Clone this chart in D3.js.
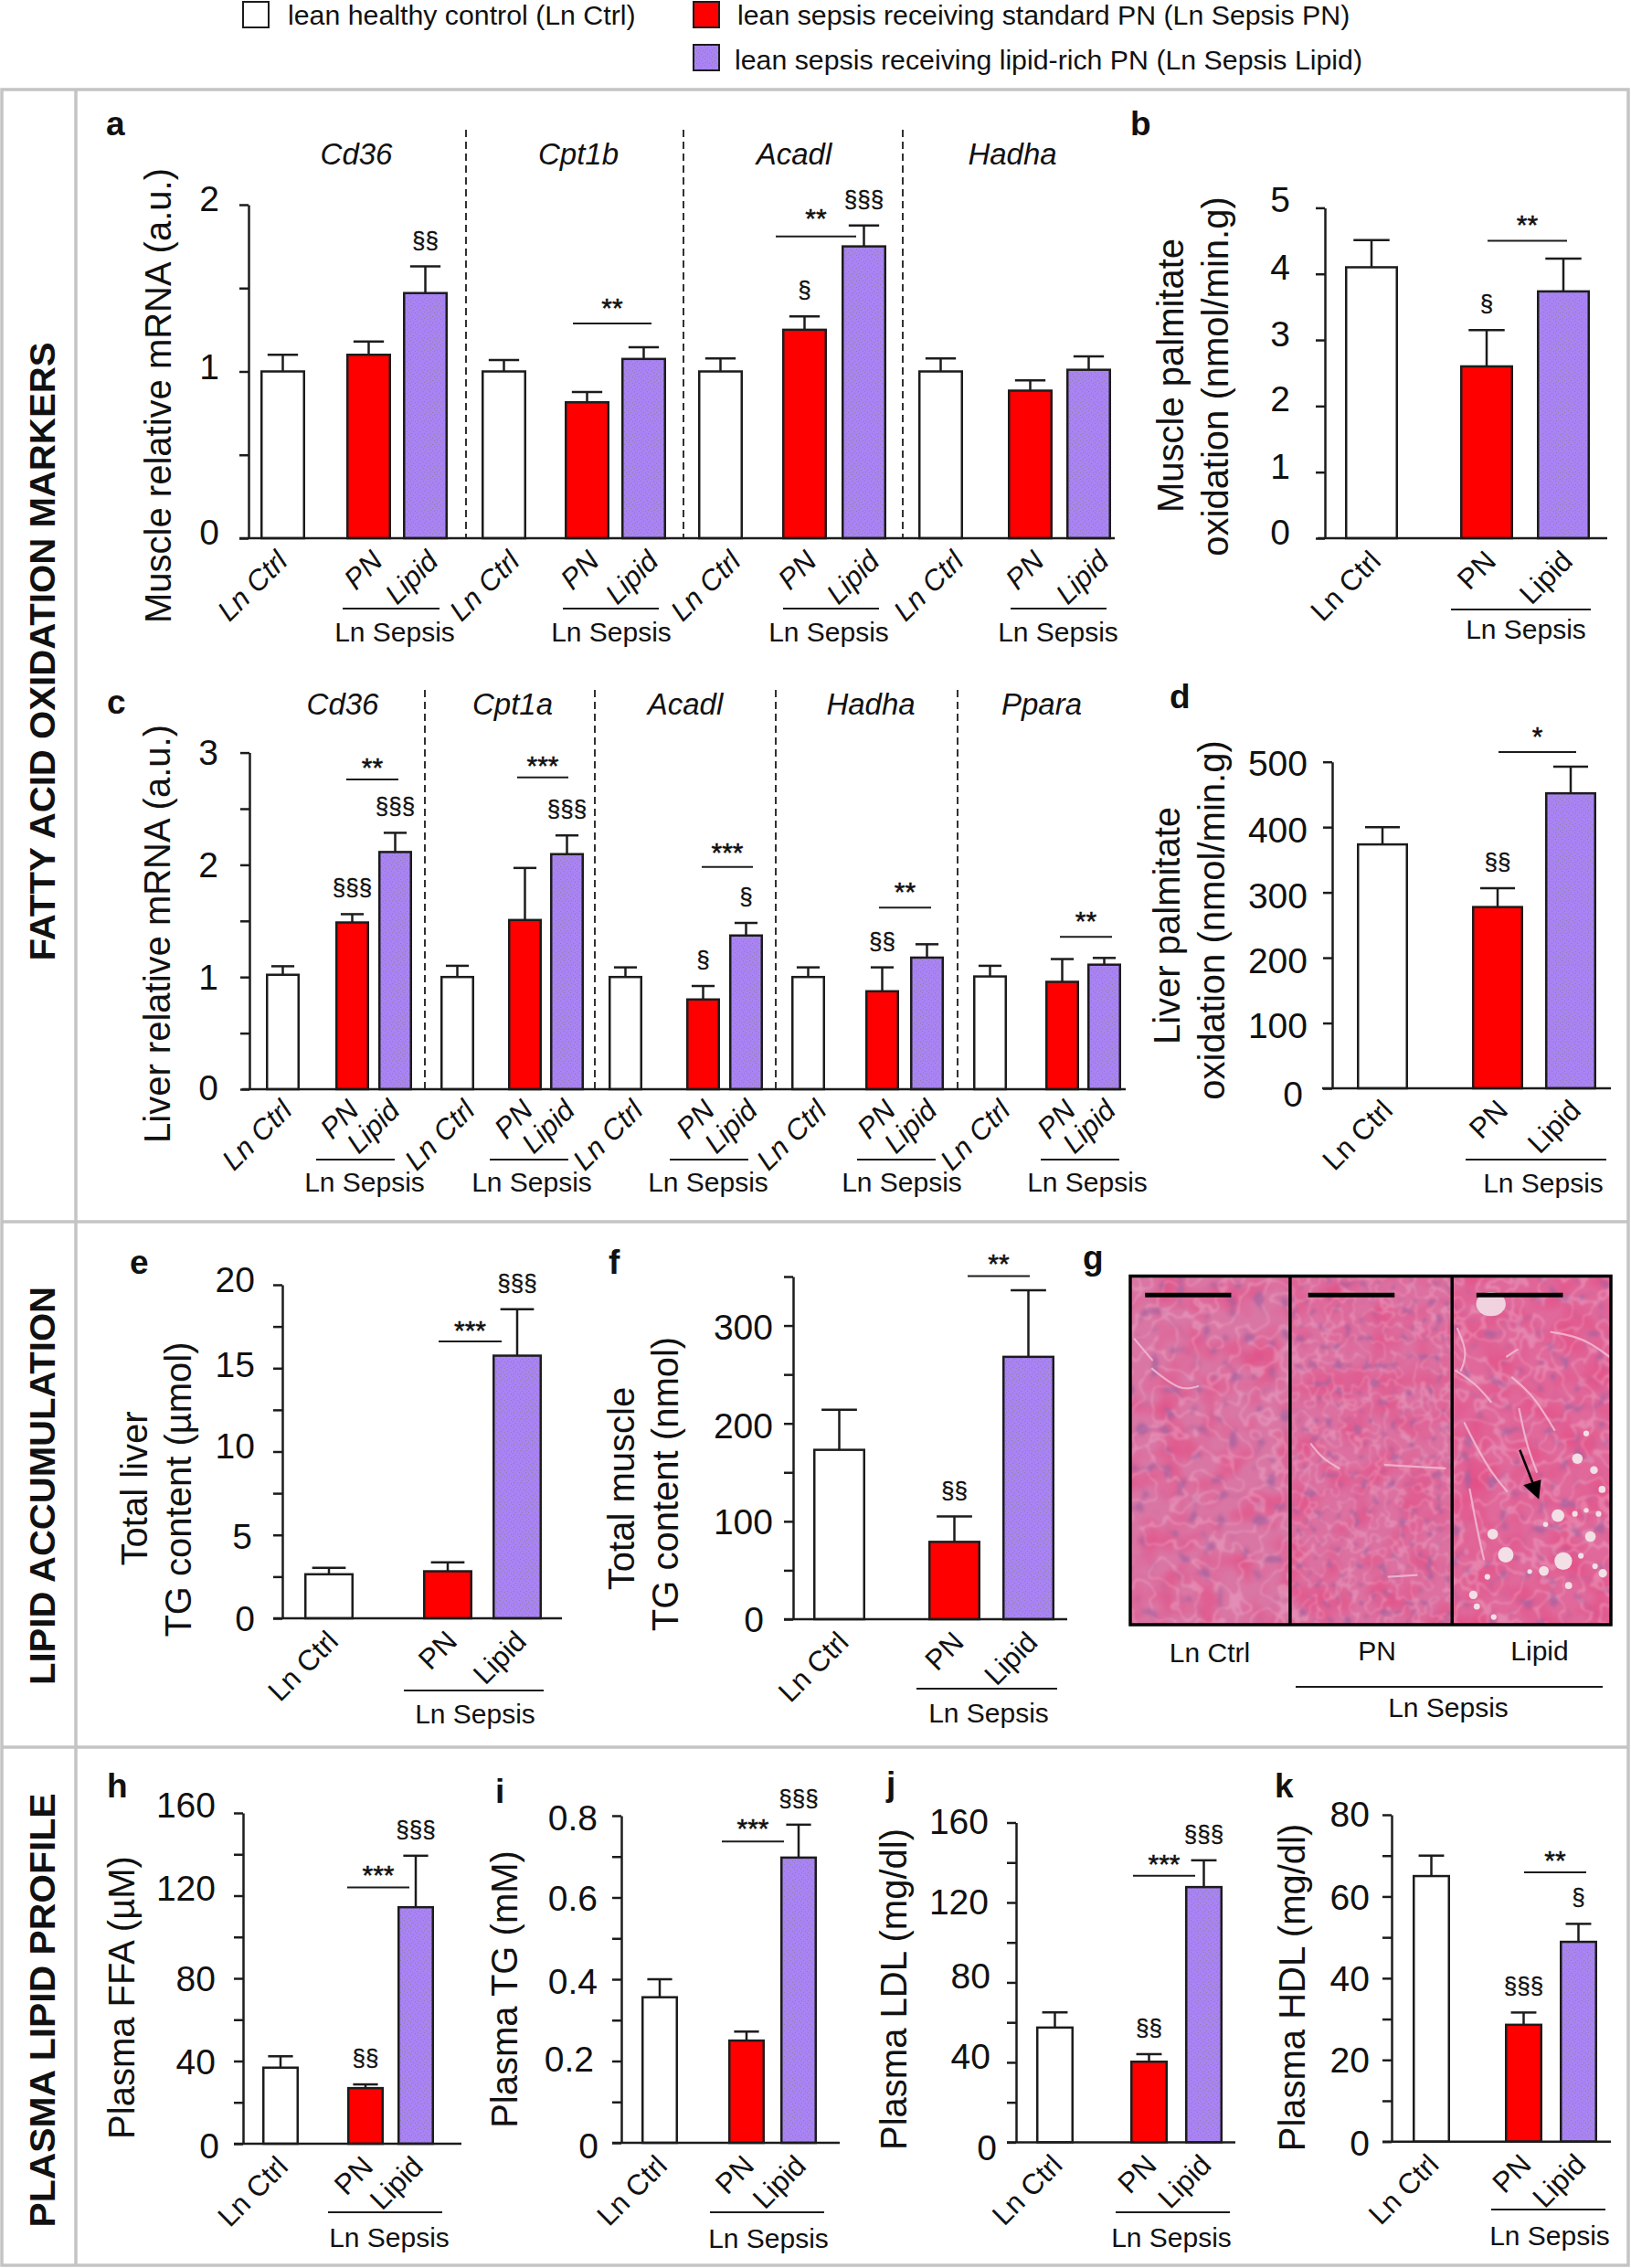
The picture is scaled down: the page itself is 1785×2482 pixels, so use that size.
<!DOCTYPE html>
<html>
<head>
<meta charset="utf-8">
<script src="https://cdn.jsdelivr.net/npm/d3@7"></script>
<style>
  body { margin: 0; background: #fff; }
  text { font-family: "Liberation Sans", Arial, sans-serif; fill: #111; }
</style>
</head>
<body>
<script>
// ---- data ----
const categories = ['Ln Ctrl', 'PN', 'Lipid']
const barFills = ['#fff', '#ff0000', 'url(#stipple)']

const genesA = ['Cd36', 'Cpt1b', 'Acadl', 'Hadha']
const meanA = [[1, 1.10, 1.47], [1, 0.815, 1.075], [1, 1.25, 1.75], [1, 0.885, 1.01]]
const upperA = [[1.10, 1.18, 1.63], [1.068, 0.877, 1.145], [1.078, 1.33, 1.875], [1.078, 0.947, 1.09]]
const hashA = [['', '', '§§'], ['', '', ''], ['', '§', '§§§'], ['', '', '']]

const meanB = [[4.10, 2.60, 3.735]]
const upperB = [[4.51, 3.15, 4.23]]
const hashB = [['', '§', '']]

const genesC = ['Cd36', 'Cpt1a', 'Acadl', 'Hadha', 'Ppara']
const meanC = [[1.02, 1.486, 2.114], [1, 1.508, 2.095], [1, 0.80, 1.37], [1, 0.873, 1.173], [1.005, 0.957, 1.11]]
const upperC = [[1.096, 1.56, 2.285], [1.10, 1.972, 2.262], [1.086, 0.92, 1.482], [1.086, 1.086, 1.292], [1.10, 1.16, 1.17]]
const hashC = [['', '§§§', '§§§'], ['', '', '§§§'], ['', '§', '§'], ['', '§§', ''], ['', '', '']]

const meanD = [[373.5, 277.6, 451.8]]
const upperD = [[400, 306.5, 492.5]]
const hashD = [['', '§§', '']]

const meanE = [[2.64, 2.82, 15.75]]
const upperE = [[3.03, 3.35, 18.53]]
const hashE = [['', '', '§§§']]

const meanF = [[173, 79, 268]]
const upperF = [[214, 105, 336]]
const hashF = [['', '§§', '']]

const meanH = [[36.8, 26.9, 114.4]]
const upperH = [[42.3, 28.7, 139.3]]
const hashH = [['', '§§', '§§§']]

const meanI = [[0.356, 0.25, 0.6975]]
const upperI = [[0.40, 0.272, 0.778]]
const hashI = [['', '', '§§§']]

const meanJ = [[57.4, 40.3, 127.7]]
const upperJ = [[65, 44.1, 141.1]]
const hashJ = [['', '§§', '§§§']]

const meanK = [[65, 28.6, 48.9]]
const upperK = [[70, 31.6, 53.3]]
const hashK = [['', '§§§', '§']]

const legendItems = [
  'lean healthy control (Ln Ctrl)',
  'lean sepsis receiving standard PN (Ln Sepsis PN)',
  'lean sepsis receiving lipid-rich PN (Ln Sepsis Lipid)'
]
const sections = ['FATTY ACID OXIDATION MARKERS', 'LIPID ACCUMULATION', 'PLASMA LIPID PROFILE']

// micrograph details, measured on the photo strip
const droplets = [[1375,1015,25],[1212,997,22],[1175,938,15],[1452,945,15],[1360,885,18],[1415,722,15],[1462,755,11],
  [1485,810,10],[1320,1043,14],[1487,1050,12],[1120,1112,12],[1130,1145,9],[1440,650,8],[1408,880,8],[1425,1000,8],
  [1280,1045,7],[1325,910,7],[1160,1060,8],[1465,1030,8],[1178,1175,8],[1390,1085,10],[1440,870,7],[1475,880,8]]
const cracks = [
  [[1095,620],[1130,690],[1170,760],[1215,815]], [[1070,470],[1130,510],[1170,560]], [[1230,490],[1290,540],[1350,640]],
  [[1110,810],[1130,920],[1150,1010]], [[1340,360],[1430,375],[1505,430]], [[1245,410],[1215,430]], [[1250,580],[1270,680],[1300,760]],
  [[1075,350],[1105,420],[1085,470]], [[660,680],[690,720],[740,750]], [[870,740],[1040,750]], [[880,1060],[960,1055]],
  [[210,465],[290,530],[340,515]], [[160,380],[210,440]]
]

// ---- layout ----
const layouts = [
  { id: 'a', letter: [116, 148], mean: meanA, upper: upperA, hash: hashA, italic: true,
    domain: [0, 2], y0: 589, y1: 224, axisX: 272, base: [262, 1220], ticks: [0, 0.5, 1, 1.5, 2], major: [0, 1, 2],
    nudge: [[0,-7],[0,-6],[0,-7]], labelRight: 240, barW: 49,
    lefts: [[285,379,441],[527,618,680],[764,856,921],[1005,1103,1167]], catOff: [12, 27],
    catDx: [[7,17,16],[19,15,18],[24,15,19],[27,17,24]],
    genes: genesA, geneX: [390,633,869,1108], geneY: 180, dashes: [510,748,988], dashTop: 142,
    sepsis: [[375,481,432],[616,721,669],[857,962,907],[1106,1211,1158]], sepsisLine: 666, sepsisText: 702,
    titles: [['Muscle relative mRNA (a.u.)', 187, 433]],
    sig: [{ x: [627,713], v: 1.288, s: '**', gap: 4 }, { x: [849,937], v: 1.81, s: '**', gap: 7 }] },
  { id: 'b', letter: [1237, 148], mean: meanB, upper: upperB, hash: hashB,
    domain: [0, 5], y0: 589, y1: 227.4, axisX: 1450, base: [1442, 1759], ticks: [0,1,2,3,4,5], major: [0,1,2,3,4,5],
    nudge: [[0,-7.6],[0,-7.6],[0,-8.4],[0,-7.6],[0,-8.4],[0,-9.5]], labelRight: 1412, barW: 58,
    lefts: [[1472,1598,1682]], catOff: [12, 27],
    sepsis: [[1588,1741,1670]], sepsisLine: 667, sepsisText: 699,
    titles: [['Muscle palmitate', 1295, 411], ['oxidation (nmol/min.g)', 1344, 412]],
    sig: [{ x: [1628,1715], v: 4.5, s: '**', gap: 5 }] },
  { id: 'c', letter: [117, 781], mean: meanC, upper: upperC, hash: hashC, italic: true,
    domain: [0, 3], y0: 1192, y1: 823.6, axisX: 273, base: [265, 1232], ticks: [0,0.5,1,1.5,2,2.5,3], major: [0,1,2,3],
    nudge: [[0,-2.4],[0,-1],[0,-1],[0,-1.5]], labelRight: 239, barW: 37,
    lefts: [[291,367,414],[482,556,602],[666,751,798],[866,947,996],[1065,1144,1190]], catOff: [8, 25],
    catDx: [[12,9,7],[21,10.5,10.5],[21,14.5,14.5],[22,16.5,13],[24,16.5,14.5]],
    genes: genesC, geneX: [375,561,750,953,1140], geneY: 782, dashes: [465,651,849,1048], dashTop: 755,
    sepsis: [[346,432,399],[536,622,582],[733,819,775],[938,1024,987],[1139,1225,1190]], sepsisLine: 1269, sepsisText: 1304,
    titles: [['Liver relative mRNA (a.u.)', 186, 1022]],
    sig: [{ x: [379,436], v: 2.76, s: '**', gap: 0 }, { x: [566,622], v: 2.778, s: '***', gap: 0 },
          { x: [768,824], v: 1.98, s: '***', gap: 3 }, { x: [962,1019], v: 1.618, s: '**', gap: 4 },
          { x: [1160,1217], v: 1.357, s: '**', gap: 4 }] },
  { id: 'd', letter: [1280, 775], mean: meanD, upper: upperD, hash: hashD,
    domain: [0, 500], y0: 1191, y1: 833.7, axisX: 1458, base: [1447, 1763], ticks: [0,100,200,300,400,500], major: [0,100,200,300,400,500],
    nudge: [[-5,5.7],[0,2],[0,2],[0,3],[0,2],[0,1]], labelRight: 1431, barW: 56,
    lefts: [[1485,1611,1691]], catOff: [13, 26],
    sepsis: [[1604,1758,1689]], sepsisLine: 1269, sepsisText: 1305,
    titles: [['Liver palmitate', 1291, 1013], ['oxidation (nmol/min.g)', 1340, 1007]],
    sig: [{ x: [1640,1725], v: 515, s: '*', gap: 4 }] },
  { id: 'e', letter: [142, 1394], mean: meanE, upper: upperE, hash: hashE,
    domain: [0, 20], y0: 1771, y1: 1406, axisX: 309, base: [299, 615], ticks: [0,2.5,5,7.5,10,12.5,15,17.5,20], major: [0,5,10,15,20],
    nudge: [[0,0],[-3,1],[0,-7],[0,-5],[0,-6]], labelRight: 279, barW: 54,
    lefts: [[333,463,539]], catOff: [12, 27],
    sepsis: [[442,595,520]], sepsisLine: 1850, sepsisText: 1886,
    titles: [['Total liver', 161, 1629], ['TG content (µmol)', 209, 1630]],
    sig: [{ x: [480,549], v: 16.6, s: '***', gap: -1 }] },
  { id: 'f', letter: [666, 1394], mean: meanF, upper: upperF, hash: hashF,
    domain: [0, 350], y0: 1772, y1: 1397, axisX: 868, base: [858, 1168], ticks: [0,50,100,150,200,250,300,350], major: [0,100,200,300],
    nudge: [[-10,0],[0,0],[0,1.5],[0,1]], labelRight: 846, barW: 57,
    lefts: [[890,1016,1097]], catOff: [12, 27],
    sepsis: [[1003,1157,1082]], sepsisLine: 1848, sepsisText: 1885,
    titles: [['Total muscle', 694, 1629], ['TG content (nmol)', 742, 1624]],
    sig: [{ x: [1059,1127], v: 350.4, s: '**', gap: 1 }] },
  { id: 'h', letter: [117, 1967], mean: meanH, upper: upperH, hash: hashH,
    domain: [0, 160], y0: 2346, y1: 1984, axisX: 266, base: [256, 505], ticks: [0,20,40,60,80,100,120,140,160], major: [0,40,80,120,160],
    nudge: [[4,1.4],[0,0],[0,0],[0,-9],[0,-9]], labelRight: 236, barW: 40,
    lefts: [[287,380,435]], catOff: [10, 27],
    sepsis: [[359,484,426]], sepsisLine: 2421, sepsisText: 2459,
    titles: [['Plasma FFA (µM)', 147, 2186]],
    sig: [{ x: [380,448], v: 124, s: '***', gap: 0 }] },
  { id: 'i', letter: [542, 1973], mean: meanI, upper: upperI, hash: hashI,
    domain: [0, 0.8], y0: 2345, y1: 1987, axisX: 680, base: [670, 919], ticks: [0,0.1,0.2,0.3,0.4,0.5,0.6,0.7,0.8], major: [0,0.2,0.4,0.6,0.8],
    nudge: [[1,2.5],[-4,-2.9],[0,1.4],[0,0],[0,1.8]], labelRight: 654, barW: 40,
    lefts: [[702,797,854]], catOff: [10, 27],
    sepsis: [[777,902,841]], sepsisLine: 2421, sepsisText: 2460,
    titles: [['Plasma TG (mM)', 566, 2177]],
    sig: [{ x: [790,858], v: 0.737, s: '***', gap: 1 }] },
  { id: 'j', letter: [970, 1965], mean: meanJ, upper: upperJ, hash: hashJ,
    domain: [0, 160], y0: 2344.4, y1: 1994.5, axisX: 1112, base: [1102, 1352], ticks: [0,20,40,60,80,100,120,140,160], major: [0,40,80,120,160],
    nudge: [[9,5],[2,-7.5],[2,-8],[0,-1.8],[0,-1.8]], labelRight: 1082, barW: 41,
    lefts: [[1134,1237,1297]], catOff: [10, 27],
    sepsis: [[1221,1346,1282]], sepsisLine: 2421, sepsisText: 2459,
    titles: [['Plasma LDL (mg/dl)', 992, 2177]],
    sig: [{ x: [1240,1308], v: 133.4, s: '***', gap: 0 }] },
  { id: 'k', letter: [1395, 1967], mean: meanK, upper: upperK, hash: hashK,
    domain: [0, 80], y0: 2343.7, y1: 1986, axisX: 1523, base: [1513, 1763], ticks: [0,10,20,30,40,50,60,70,80], major: [0,20,40,60,80],
    nudge: [[0,1],[0,-1],[0,0],[0,0],[0,-1.4]], labelRight: 1499, barW: 41,
    lefts: [[1546,1647,1707]], catOff: [10, 27],
    sepsis: [[1632,1757,1696]], sepsisLine: 2418, sepsisText: 2457,
    titles: [['Plasma HDL (mg/dl)', 1428, 2175]],
    sig: [{ x: [1668,1736], v: 65.9, s: '**', gap: 0 }] }
]

const ink = '#1c1c1c'
const svg = d3.select('body').append('svg').attr('width', 1785).attr('height', 2482)
const defs = svg.append('defs')

// stippled purple used for the Lipid bars
const pat = defs.append('pattern').attr('id', 'stipple').attr('patternUnits', 'userSpaceOnUse')
  .attr('width', 7).attr('height', 7)
pat.append('rect').attr('width', 7).attr('height', 7).attr('fill', '#a983f3')
;[[1,1],[4,3],[2,5],[6,6]].forEach(function (p) {
  pat.append('rect').attr('x', p[0]).attr('y', p[1]).attr('width', 1).attr('height', 1).attr('fill', '#8f80a8')
})

// section frame
const frame = svg.append('g').attr('stroke', '#c4c4c4').attr('stroke-width', 3.5).attr('fill', 'none')
frame.append('rect').attr('x', 2).attr('y', 98).attr('width', 1780).attr('height', 2381)
frame.append('line').attr('x1', 83).attr('x2', 83).attr('y1', 98).attr('y2', 2479)
frame.append('line').attr('x1', 2).attr('x2', 1782).attr('y1', 1337).attr('y2', 1337)
frame.append('line').attr('x1', 2).attr('x2', 1782).attr('y1', 1912).attr('y2', 1912)

const sectionPos = [713, 1626, 2200]
const sectionLen = [677, 436, 475]
sections.forEach(function (s, i) {
  svg.append('text').text(s)
    .attr('transform', 'translate(60,' + sectionPos[i] + ') rotate(-90)')
    .attr('text-anchor', 'middle').attr('font-weight', 'bold').attr('font-size', 38)
    .attr('textLength', sectionLen[i]).attr('lengthAdjust', 'spacingAndGlyphs')
})

// legend
const legendPos = [[266, 2, 315, 27, 0], [759, 2, 807, 27, 1], [759, 49, 804, 76, 2]]
legendPos.forEach(function (p, i) {
  svg.append('rect').attr('x', p[0]).attr('y', p[1]).attr('width', 28).attr('height', 28)
    .attr('fill', barFills[p[4]]).attr('stroke', ink).attr('stroke-width', 2)
  svg.append('text').attr('x', p[2]).attr('y', p[3]).attr('font-size', 30.3).text(legendItems[i])
})

function drawPanel(p) {
  const g = svg.append('g').attr('class', 'panel-' + p.id)
  const y = d3.scaleLinear().domain(p.domain).range([p.y0, p.y1])

  // bar positions go through an ordinal scale keyed by group and category
  const keys = [], lefts = []
  p.lefts.forEach(function (row, gi) {
    row.forEach(function (left, ci) { keys.push(gi + '|' + ci); lefts.push(left) })
  })
  const x = d3.scaleOrdinal(keys, lefts)

  const rows = []
  p.mean.forEach(function (row, gi) {
    row.forEach(function (v, ci) {
      rows.push({ key: gi + '|' + ci, group: gi, cat: ci, value: v, upper: p.upper[gi][ci], hash: p.hash[gi][ci] })
    })
  })

  const bw = p.barW, cap = bw * 0.68
  const cx = function (d) { return x(d.key) + bw / 2 }

  g.selectAll('line.err').data(rows).join('line').attr('class', 'err')
    .attr('x1', cx).attr('x2', cx).attr('y1', function (d) { return y(d.value) }).attr('y2', function (d) { return y(d.upper) })
    .attr('stroke', ink).attr('stroke-width', 2.5)
  g.selectAll('line.cap').data(rows).join('line').attr('class', 'cap')
    .attr('x1', function (d) { return cx(d) - cap / 2 }).attr('x2', function (d) { return cx(d) + cap / 2 })
    .attr('y1', function (d) { return y(d.upper) }).attr('y2', function (d) { return y(d.upper) })
    .attr('stroke', ink).attr('stroke-width', 2.5)

  g.selectAll('rect.bar').data(rows).join('rect').attr('class', 'bar')
    .attr('x', function (d) { return x(d.key) + 1.25 }).attr('width', bw - 2.5)
    .attr('y', function (d) { return y(d.value) }).attr('height', function (d) { return y(0) - y(d.value) })
    .attr('fill', function (d) { return barFills[d.cat] })
    .attr('stroke', ink).attr('stroke-width', 2.5)

  // y axis
  const axis = d3.axisLeft(y).tickValues(p.ticks).tickSize(10).tickSizeOuter(0)
    .tickFormat(function (d) { return p.major.includes(d) ? String(d) : '' })
  const ag = g.append('g').attr('transform', 'translate(' + p.axisX + ',0)').call(axis)
  ag.selectAll('path, line').attr('stroke', ink).attr('stroke-width', 2.5)
  ag.selectAll('text')
    .attr('font-family', '"Liberation Sans", Arial, sans-serif').attr('font-size', 39).attr('fill', '#111')
    .attr('dy', '0.358em')
    .attr('x', function (d) {
      const i = p.major.indexOf(d)
      return p.labelRight - p.axisX + (i < 0 ? 0 : p.nudge[i][0])
    })
    .attr('y', function (d) {
      const i = p.major.indexOf(d)
      return i < 0 ? 0 : p.nudge[i][1]
    })

  // baseline
  g.append('line').attr('x1', p.base[0]).attr('x2', p.base[1]).attr('y1', y(0)).attr('y2', y(0))
    .attr('stroke', ink).attr('stroke-width', 2.5)

  // rotated category labels
  g.selectAll('text.cat').data(rows).join('text').attr('class', 'cat')
    .attr('text-anchor', 'end').attr('font-size', 31.5)
    .attr('font-style', p.italic ? 'italic' : null)
    .attr('transform', function (d) {
      const dx = p.catDx ? p.catDx[d.group][d.cat] : p.catOff[0]
      return 'translate(' + (cx(d) + dx) + ',' + (y(0) + p.catOff[1]) + ') rotate(-45)'
    })
    .text(function (d) { return categories[d.cat] })

  // § marks sit above the error cap
  g.selectAll('text.hash').data(rows.filter(function (d) { return d.hash })).join('text').attr('class', 'hash')
    .attr('x', cx).attr('y', function (d) { return y(d.upper) - 20 })
    .attr('text-anchor', 'middle').attr('font-size', 26).attr('stroke', '#111').attr('stroke-width', 0.3)
    .text(function (d) { return d.hash })

  // Ln Sepsis brackets
  p.sepsis.forEach(function (s) {
    g.append('line').attr('x1', s[0]).attr('x2', s[1]).attr('y1', p.sepsisLine).attr('y2', p.sepsisLine)
      .attr('stroke', ink).attr('stroke-width', 2)
    g.append('text').attr('x', s[2]).attr('y', p.sepsisText).attr('text-anchor', 'middle')
      .attr('font-size', 30).text('Ln Sepsis')
  })

  // significance lines and stars
  p.sig.forEach(function (s) {
    g.append('line').attr('x1', s.x[0]).attr('x2', s.x[1]).attr('y1', y(s.v)).attr('y2', y(s.v))
      .attr('stroke', ink).attr('stroke-width', 2)
    g.append('text').attr('x', (s.x[0] + s.x[1]) / 2).attr('y', y(s.v) - 3 - s.gap)
      .attr('text-anchor', 'middle').attr('font-size', 30).attr('stroke', '#111').attr('stroke-width', 0.5).text(s.s)
  })

  // gene headers and dashed separators
  if (p.genes) {
    p.genes.forEach(function (name, i) {
      g.append('text').attr('x', p.geneX[i]).attr('y', p.geneY).attr('text-anchor', 'middle')
        .attr('font-style', 'italic').attr('font-size', 33).text(name)
    })
    p.dashes.forEach(function (dx) {
      g.append('line').attr('x1', dx).attr('x2', dx).attr('y1', p.dashTop).attr('y2', y(0))
        .attr('stroke', ink).attr('stroke-width', 1.8).attr('stroke-dasharray', '8 5')
    })
  }

  // y titles
  p.titles.forEach(function (t) {
    g.append('text').text(t[0])
      .attr('transform', 'translate(' + t[1] + ',' + t[2] + ') rotate(-90)')
      .attr('text-anchor', 'middle').attr('font-size', 40)
  })

  svg.append('text').attr('x', p.letter[0]).attr('y', p.letter[1])
    .attr('font-weight', 'bold').attr('font-size', 37).text(p.id)
}

layouts.forEach(drawPanel)

// ---- panel g: micrograph strip, textures come from svg noise filters ----
function tissueFilter(id, seed, freq) {
  const f = defs.append('filter').attr('id', id).attr('x', 0).attr('y', 0).attr('width', '100%').attr('height', '100%')
    .attr('color-interpolation-filters', 'sRGB')
  // nuclei: peaks of a fine noise
  f.append('feTurbulence').attr('type', 'fractalNoise').attr('baseFrequency', freq).attr('numOctaves', 1).attr('seed', seed).attr('result', 'n1')
  f.append('feColorMatrix').attr('in', 'n1').attr('type', 'matrix')
    .attr('values', '0 0 0 0 0  0 0 0 0 0  0 0 0 0 0  1 0 0 0 0').attr('result', 'a1')
  f.append('feComponentTransfer').attr('in', 'a1').attr('result', 'nuc')
    .append('feFuncA').attr('type', 'table').attr('tableValues', '0 0 0 0 0 0 0 0.15 0.7 0.75 0.75 0.75')
  f.append('feFlood').attr('flood-color', '#a6629f').attr('result', 'purple')
  f.append('feComposite').attr('in', 'purple').attr('in2', 'nuc').attr('operator', 'in').attr('result', 'nuclei')

  // pale cell borders: a narrow band of a second noise
  f.append('feTurbulence').attr('type', 'fractalNoise').attr('baseFrequency', freq * 0.6).attr('numOctaves', 2).attr('seed', seed + 7).attr('result', 'n2')
  f.append('feColorMatrix').attr('in', 'n2').attr('type', 'matrix')
    .attr('values', '0 0 0 0 0  0 0 0 0 0  0 0 0 0 0  0 1 0 0 0').attr('result', 'a2')
  f.append('feComponentTransfer').attr('in', 'a2').attr('result', 'vein')
    .append('feFuncA').attr('type', 'table')
    .attr('tableValues', '0 0 0 0 0 0 0 0 0 0 0 0 0 0 0 0 0.4 0.4 0 0 0 0 0 0 0 0 0 0 0 0 0 0 0')
  f.append('feFlood').attr('flood-color', '#f0b4d0').attr('result', 'pale')
  f.append('feComposite').attr('in', 'pale').attr('in2', 'vein').attr('operator', 'in').attr('result', 'veins')

  // slow variation of the eosin colour
  f.append('feTurbulence').attr('type', 'fractalNoise').attr('baseFrequency', 0.03).attr('numOctaves', 2).attr('seed', seed + 13).attr('result', 'n3')
  f.append('feColorMatrix').attr('in', 'n3').attr('type', 'matrix')
    .attr('values', '0 0 0 0 0.9  0 0 0 0 0.28  0 0 0 0 0.5  1.6 0 0 0 -0.65').attr('result', 'blush')

  const m = f.append('feMerge').attr('result', 'all')
  m.append('feMergeNode').attr('in', 'SourceGraphic')
  m.append('feMergeNode').attr('in', 'blush')
  m.append('feMergeNode').attr('in', 'veins')
  m.append('feMergeNode').attr('in', 'nuclei')
  f.append('feGaussianBlur').attr('in', 'all').attr('stdDeviation', 0.8)
}

// photo strip is measured in a zoomed pixel grid, then scaled into the page
const gx = d3.scaleLinear().domain([148, 1510]).range([1237, 1763])
const gy = d3.scaleLinear().domain([200, 1197]).range([1396.5, 1778])
const gr = d3.scaleLinear().domain([0, 1362]).range([0, 526])

const strips = [
  { from: 148, to: 601, seed: 3, freq: 0.07, fill: '#da76a4' },
  { from: 601, to: 1060, seed: 11, freq: 0.1, fill: '#dc70a0' },
  { from: 1060, to: 1510, seed: 21, freq: 0.075, fill: '#e0689a' }
]
const photo = svg.append('g').attr('class', 'panel-g')
strips.forEach(function (s, i) {
  tissueFilter('tissue' + i, s.seed, s.freq)
  photo.append('rect').attr('x', gx(s.from)).attr('y', gy(200)).attr('width', gx(s.to) - gx(s.from)).attr('height', gy(1197) - gy(200))
    .attr('fill', s.fill).attr('filter', 'url(#tissue' + i + ')')
})
const crackLine = d3.line().x(function (d) { return gx(d[0]) }).y(function (d) { return gy(d[1]) }).curve(d3.curveBasis)
photo.selectAll('path.crack').data(cracks).join('path').attr('class', 'crack')
  .attr('d', crackLine).attr('fill', 'none').attr('stroke', '#f2bcd4').attr('stroke-width', 2.2)
  .attr('stroke-opacity', 0.85).attr('stroke-linecap', 'round')
photo.append('ellipse').attr('cx', gx(1170)).attr('cy', gy(280)).attr('rx', gr(42)).attr('ry', gr(34)).attr('fill', '#f0d3df')
photo.selectAll('circle.drop').data(droplets).join('circle').attr('class', 'drop')
  .attr('cx', function (d) { return gx(d[0]) }).attr('cy', function (d) { return gy(d[1]) }).attr('r', function (d) { return gr(d[2]) })
  .attr('fill', '#f2e0e6')

photo.append('rect').attr('x', gx(148)).attr('y', gy(200)).attr('width', gx(1510) - gx(148)).attr('height', gy(1197) - gy(200))
  .attr('fill', 'none').attr('stroke', '#000').attr('stroke-width', 3.5)
;[601, 1060].forEach(function (d) {
  photo.append('line').attr('x1', gx(d)).attr('x2', gx(d)).attr('y1', gy(200)).attr('y2', gy(1197)).attr('stroke', '#000').attr('stroke-width', 3.5)
})
;[[190, 434], [652, 897], [1129, 1374]].forEach(function (b) {
  photo.append('line').attr('x1', gx(b[0])).attr('x2', gx(b[1])).attr('y1', gy(254)).attr('y2', gy(254)).attr('stroke', '#000').attr('stroke-width', 5)
})
// arrow pointing at the lipid droplets
photo.append('line').attr('x1', gx(1252)).attr('y1', gy(697)).attr('x2', gx(1290)).attr('y2', gy(795)).attr('stroke', '#000').attr('stroke-width', 2.5)
photo.append('path').attr('fill', '#000')
  .attr('d', 'M' + gx(1306) + ',' + gy(838) + 'L' + gx(1262) + ',' + gy(798) + 'L' + gx(1312) + ',' + gy(782) + 'Z')

photo.append('text').attr('x', 1185).attr('y', 1389).attr('font-weight', 'bold').attr('font-size', 37).text('g')
const gLabels = [['Ln Ctrl', 1324, 1819], ['PN', 1507, 1817], ['Lipid', 1685, 1817], ['Ln Sepsis', 1585, 1879]]
gLabels.forEach(function (l) {
  photo.append('text').attr('x', l[1]).attr('y', l[2]).attr('text-anchor', 'middle').attr('font-size', 30).text(l[0])
})
photo.append('line').attr('x1', 1418).attr('x2', 1754).attr('y1', 1846).attr('y2', 1846).attr('stroke', ink).attr('stroke-width', 2)
</script>
</body>
</html>
